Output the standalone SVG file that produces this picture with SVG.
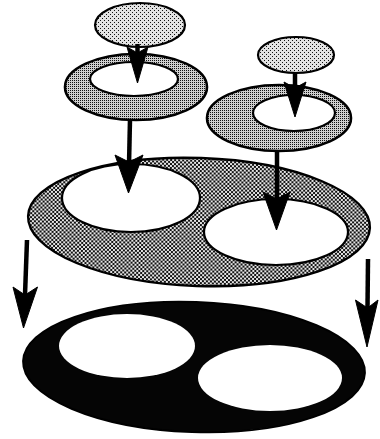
<svg xmlns="http://www.w3.org/2000/svg" width="380" height="439" viewBox="0 0 380 439">
<defs>
<pattern id="pLight" width="4" height="4" patternUnits="userSpaceOnUse">
<rect width="4" height="4" fill="#e2e2e2"/>
<rect x="0" y="0" width="1" height="1" fill="#111"/>
<rect x="2" y="2" width="1" height="1" fill="#111"/>
</pattern>
<pattern id="pRing" width="2" height="2" patternUnits="userSpaceOnUse">
<rect width="2" height="2" fill="#cfcfcf"/>
<rect x="0" y="0" width="1" height="1" fill="#111"/>
</pattern>
<pattern id="pMid" width="4" height="4" patternUnits="userSpaceOnUse">
<rect width="4" height="4" fill="#e6e6e6"/>
<rect x="0" y="0" width="2" height="2" fill="#111"/>
<rect x="2" y="2" width="2" height="2" fill="#111"/>
</pattern>
</defs>
<style>
.light{fill:url(#pLight);stroke:#000;stroke-width:2.2}
.ring{fill:url(#pRing);stroke:#000;stroke-width:2.6}
.mid{fill:url(#pMid);stroke:#000;stroke-width:2.4}
.dark{fill:#050505;stroke:#000;stroke-width:2}
.hole{fill:#fff;stroke:#000;stroke-width:2.2}
.darkhole{fill:#fff;stroke:none}
.shaft{stroke:#000;stroke-width:4.5;fill:none}
.head{fill:#000;stroke:#000;stroke-width:1}
</style>

<g id="bottom-layer">
<ellipse class="dark" cx="194" cy="367" rx="171" ry="65" transform="rotate(2 194 367)"/>
<ellipse class="darkhole" cx="127" cy="346" rx="68" ry="32"/>
<ellipse class="darkhole" cx="270" cy="378" rx="72" ry="33"/>
</g>

<g id="middle-layer">
<ellipse class="mid" cx="199" cy="222" rx="171" ry="64" transform="rotate(2 199 222)"/>
<ellipse class="hole" cx="131" cy="198" rx="69" ry="34"/>
<ellipse class="hole" cx="276" cy="232" rx="72" ry="33"/>
</g>

<g id="ring-left">
<ellipse class="ring" cx="136" cy="87" rx="71" ry="33"/>
<ellipse class="hole" cx="134" cy="79" rx="44" ry="17"/>
</g>

<g id="ring-right">
<ellipse class="ring" cx="279" cy="118" rx="72" ry="33"/>
<ellipse class="hole" cx="294" cy="113" rx="41" ry="18"/>
</g>

<g id="top-left">
<ellipse class="light" cx="140" cy="25" rx="45" ry="22"/>
</g>

<g id="top-right">
<ellipse class="light" cx="296" cy="55" rx="38" ry="18"/>
</g>

<g id="connectors">
<line class="shaft" x1="137.5" y1="44" x2="137.5" y2="60"/>
<path class="head" d="M137.5,83 L127,47 L137.5,53 L148,47 Z"/>

<line class="shaft" x1="295" y1="72" x2="295" y2="90"/>
<path class="head" d="M295,117 L284,82 L295,88 L306,82 Z"/>

<line class="shaft" x1="130" y1="119" x2="129" y2="165"/>
<path class="head" d="M128.5,193 L115,155 L129,162 L143,155 Z"/>

<line class="shaft" x1="277" y1="150" x2="277" y2="200"/>
<path class="head" d="M276.5,230 L263,192 L277,199 L290,192 Z"/>

<line class="shaft" x1="27" y1="240" x2="25" y2="295"/>
<path class="head" d="M23.5,328 L13,287 L25,295 L37.5,287 Z"/>

<line class="shaft" x1="368" y1="259" x2="367.5" y2="308"/>
<path class="head" d="M367,347 L355.5,300 L367.5,308 L378,300 Z"/>
</g>
</svg>
